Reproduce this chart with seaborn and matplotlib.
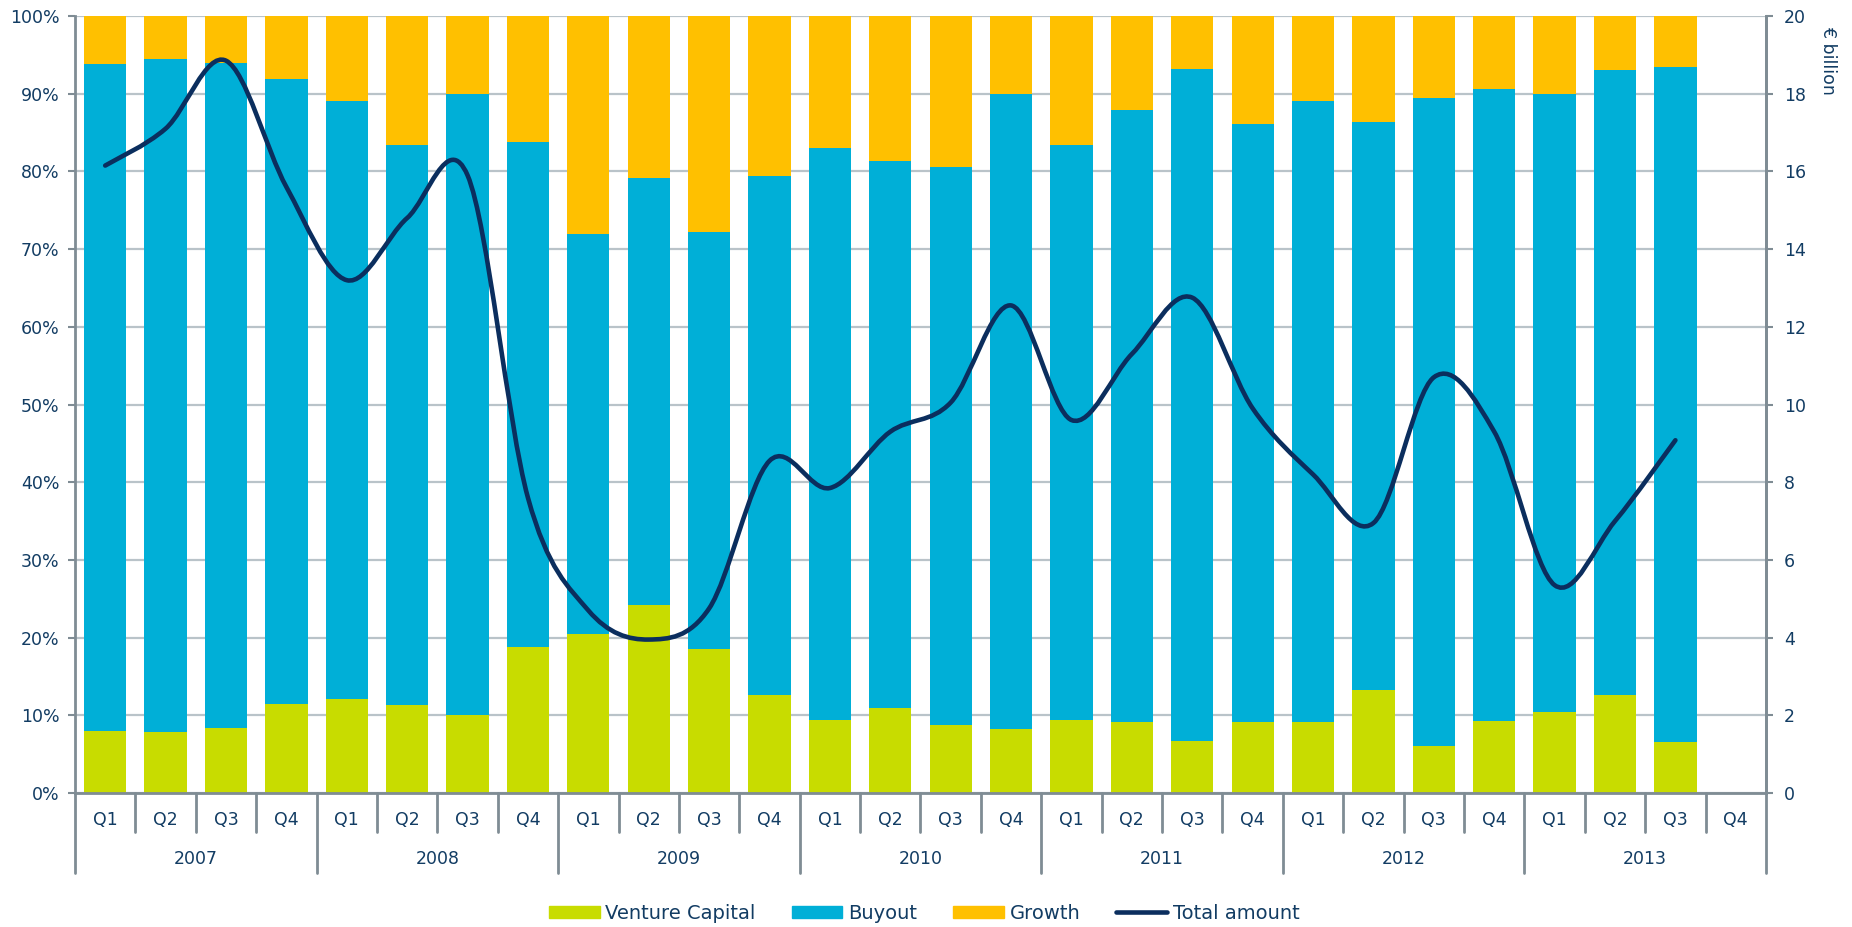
import numpy as np
import pandas as pd
import matplotlib
matplotlib.use("Agg")
import matplotlib.pyplot as plt
import seaborn as sns
from matplotlib.path import Path
from matplotlib.patches import PathPatch, Patch
from matplotlib.lines import Line2D

# data (share of amount invested, % / total in EUR bn)
years = ["2007", "2008", "2009", "2010", "2011", "2012", "2013"]
quarters = ["Q1", "Q2", "Q3", "Q4"]

vc = [8.0, 7.9, 8.4, 11.4, 12.1, 11.3, 10.1, 18.8,
      20.5, 24.2, 18.5, 12.6, 9.4, 11.0, 8.7, 8.2,
      9.4, 9.1, 6.7, 9.1, 9.1, 13.3, 6.0, 9.3,
      10.4, 12.6, 6.6]
buyout = [85.8, 86.6, 85.5, 80.5, 77.0, 72.1, 79.9, 65.0,
          51.5, 54.9, 53.7, 66.8, 73.6, 70.3, 71.9, 81.7,
          74.0, 78.8, 86.5, 77.0, 80.0, 73.1, 83.4, 81.3,
          79.6, 80.4, 86.9]
growth = [6.2, 5.5, 6.1, 8.1, 10.9, 16.6, 10.0, 16.2,
          28.0, 20.9, 27.8, 20.6, 17.0, 18.7, 19.4, 10.1,
          16.6, 12.1, 6.8, 13.9, 10.9, 13.6, 10.6, 9.4,
          10.0, 7.0, 6.5]
total = [16.15, 17.1, 18.85, 15.6, 13.2, 14.8, 15.9, 7.6,
         4.7, 3.95, 4.75, 8.55, 7.85, 9.3, 10.05, 12.55,
         9.6, 11.3, 12.75, 9.9, 8.2, 6.95, 10.7, 9.3,
         5.35, 7.0, 9.08]

C_VC = "#C8DC00"
C_BO = "#00AFD7"
C_GR = "#FFC000"
C_LINE = "#0B2E5E"
C_TXT = "#123C63"
C_AX = "#7F8C94"
C_GRID = "#B9C3C9"

order = [f"{y} {q}" for y in years for q in quarters]
df = pd.DataFrame({"period": order[:len(vc)], "vc": vc, "buyout": buyout, "growth": growth})
df["top_bo"] = df["vc"] + df["buyout"]
df["top_gr"] = df["top_bo"] + df["growth"]

sns.set_style("white")
plt.rcParams["font.family"] = ["DejaVu Sans"]

fig = plt.figure(figsize=(18.52, 9.27), dpi=100)
ax = fig.add_axes([75 / 1852, 1 - 793 / 927, (1766 - 75) / 1852, (793 - 16) / 927])

for col, c in [("top_gr", C_GR), ("top_bo", C_BO), ("vc", C_VC)]:
    sns.barplot(data=df, x="period", y=col, order=order, color=c, saturation=1,
                width=0.7, ax=ax, zorder=2, linewidth=0)

ax.set_xlim(-0.5, len(order) - 0.5)
ax.set_ylim(0, 100)
ax.set_yticks(np.arange(0, 101, 10))
ax.set_yticklabels([f"{v}%" for v in range(0, 101, 10)])
ax.yaxis.grid(True, color=C_GRID, lw=1.6, zorder=0)
ax.set_axisbelow(True)
ax.set_xlabel("")
ax.set_ylabel("")
ax.set_xticks([])
ax.tick_params(axis="y", colors=C_AX, labelcolor=C_TXT, labelsize=12.5,
               length=5, width=1.5, direction="out", pad=6)
ax.spines["top"].set_visible(False)
for s in ["left", "bottom", "right"]:
    ax.spines[s].set_color(C_AX)
    ax.spines[s].set_linewidth(2)

# secondary axis with smoothed total line
ax2 = ax.twinx()
ax2.set_ylim(0, 20)
ax2.set_yticks(np.arange(0, 21, 2))
ax2.tick_params(axis="y", colors=C_AX, labelcolor=C_TXT, labelsize=12.5,
                length=5, width=1.5, direction="out", pad=8)
for s in ["top", "left", "bottom"]:
    ax2.spines[s].set_visible(False)
ax2.spines["right"].set_color(C_AX)
ax2.spines["right"].set_linewidth(2)

pts = np.column_stack([np.arange(len(total)), total])
verts = [pts[0]]
codes = [Path.MOVETO]
for i in range(len(pts) - 1):
    p0 = pts[i - 1] if i > 0 else pts[i]
    p3 = pts[i + 2] if i + 2 < len(pts) else pts[i + 1]
    c1 = pts[i] + (pts[i + 1] - p0) / 6
    c2 = pts[i + 1] - (p3 - pts[i]) / 6
    verts += [c1, c2, pts[i + 1]]
    codes += [Path.CURVE4] * 3
ax2.add_patch(PathPatch(Path(verts, codes), facecolor="none", edgecolor=C_LINE,
                        lw=3.3, capstyle="round", joinstyle="round", zorder=5))

# two-level category axis
tr = ax.get_xaxis_transform()
h = 793 - 16
q_depth = -39 / h
y_depth = -80 / h
for k in range(1, len(order)):
    d = y_depth if k % 4 == 0 else q_depth
    ax.plot([k - 0.5, k - 0.5], [0, d], color=C_AX, lw=2, transform=tr, clip_on=False)
for xe in [-0.5, len(order) - 0.5]:
    ax.plot([xe, xe], [0, y_depth], color=C_AX, lw=2, transform=tr, clip_on=False)
for k, lab in enumerate(order):
    ax.text(k, -27 / h, lab.split()[1], transform=tr, ha="center", va="center",
            fontsize=12.5, color=C_TXT)
for j, y in enumerate(years):
    ax.text(4 * j + 1.5, -66 / h, y, transform=tr, ha="center", va="center",
            fontsize=12.5, color=C_TXT)

fig.text(1828 / 1852, 1 - 26 / 927, "€ billion", rotation=270, ha="center", va="top",
         fontsize=12.5, color=C_TXT)

handles = [Patch(color=C_VC, label="Venture Capital"),
           Patch(color=C_BO, label="Buyout"),
           Patch(color=C_GR, label="Growth"),
           Line2D([], [], color=C_LINE, lw=3.3, solid_capstyle="round", label="Total amount")]
leg = fig.legend(handles=handles, loc="center", bbox_to_anchor=(0.499, 0.015), ncol=4,
                 frameon=False, fontsize=14, handlelength=2.6, handleheight=0.6,
                 handletextpad=0.3, columnspacing=1.85)
for t in leg.get_texts():
    t.set_color(C_TXT)

fig.savefig("out.png", dpi=100)
